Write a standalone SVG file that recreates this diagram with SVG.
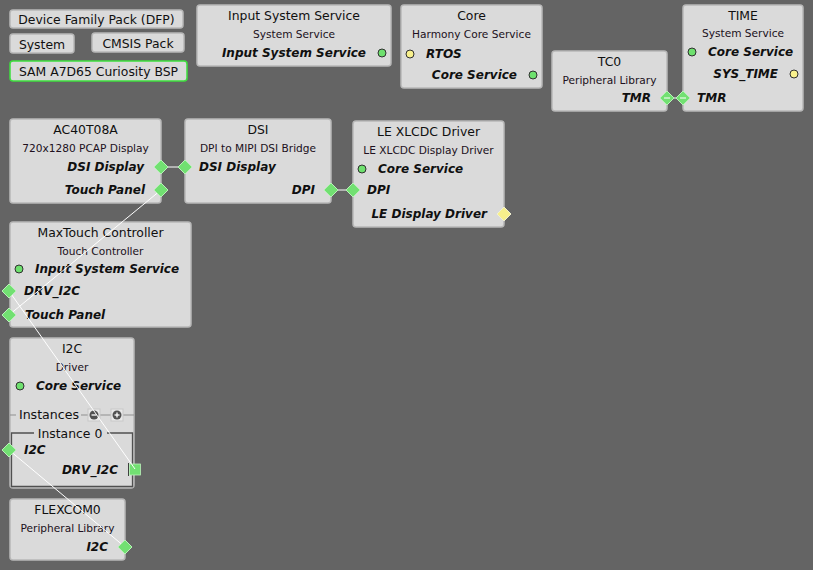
<svg xmlns="http://www.w3.org/2000/svg" width="813" height="570" viewBox="0 0 813 570">
<defs>
<style>
.bg{fill:#646464}
.node{fill:#dadada;stroke:#b8b8b8;stroke-width:1.5}
.sel{fill:#dadada;stroke:#3ee03e;stroke-width:1.5}
.t{font-family:"DejaVu Sans",Verdana,sans-serif;font-size:12.4px;fill:#101010;text-anchor:middle;dominant-baseline:central}
.s{font-family:"DejaVu Sans",Verdana,sans-serif;font-size:10.6px;fill:#201020;text-anchor:middle;dominant-baseline:central}
.p{font-family:"DejaVu Sans",Verdana,sans-serif;font-size:12px;font-weight:bold;font-style:italic;fill:#101010;dominant-baseline:central}
.r{text-anchor:end}
.gc{fill:#6ee06e;stroke:#303030;stroke-width:1}
.yc{fill:#f8f08c;stroke:#303030;stroke-width:1}
.gd{fill:#72e072;stroke:#b8f0b8;stroke-width:1}
.yd{fill:#f8f08c;stroke:#f0f0d0;stroke-width:1}
.w{stroke:#ffffff;stroke-width:1;fill:none}
</style>
</defs>
<rect class="bg" x="0" y="0" width="813" height="570"/>

<g id="dfp"><rect class="node" x="10" y="10" width="173" height="18" rx="3"/><text class="t" x="96.5" y="19.5">Device Family Pack (DFP)</text></g>
<g id="system"><rect class="node" x="10" y="34" width="64" height="19" rx="3"/><text class="t" x="42" y="44">System</text></g>
<g id="cmsis"><rect class="node" x="92" y="33" width="92" height="19" rx="3"/><text class="t" x="138" y="43">CMSIS Pack</text></g>
<g id="bsp"><rect class="sel" x="10" y="61" width="177" height="20" rx="3"/><text class="t" x="98.5" y="71">SAM A7D65 Curiosity BSP</text></g>

<g id="input-system-service"><rect class="node" x="197" y="5" width="194" height="61" rx="3"/>
<text class="t" x="294" y="15">Input System Service</text>
<text class="s" x="294" y="34">System Service</text>
<text class="p r" x="366" y="53">Input System Service</text>
<circle class="gc" cx="382" cy="53" r="4"/></g>

<g id="core"><rect class="node" x="401" y="5" width="141" height="83" rx="3"/>
<text class="t" x="471.5" y="15">Core</text>
<text class="s" x="471.5" y="34">Harmony Core Service</text>
<circle class="yc" cx="410" cy="54" r="4"/>
<text class="p" x="426" y="54">RTOS</text>
<text class="p r" x="517" y="75">Core Service</text>
<circle class="gc" cx="533" cy="75" r="4"/></g>

<g id="tc0"><rect class="node" x="552" y="51" width="115" height="60" rx="3"/>
<text class="t" x="609.5" y="61">TC0</text>
<text class="s" x="609.5" y="80">Peripheral Library</text>
<text class="p r" x="651" y="98">TMR</text></g>

<g id="time"><rect class="node" x="683" y="5" width="120" height="106" rx="3"/>
<text class="t" x="743" y="15">TIME</text>
<text class="s" x="743" y="33">System Service</text>
<circle class="gc" cx="692" cy="52" r="4"/>
<text class="p" x="708" y="52">Core Service</text>
<text class="p r" x="778" y="74">SYS_TIME</text>
<circle class="yc" cx="794" cy="74" r="4"/>
<text class="p" x="697" y="98">TMR</text></g>

<g id="ac40t08a"><rect class="node" x="10" y="119" width="151" height="84" rx="3"/>
<text class="t" x="85.5" y="129">AC40T08A</text>
<text class="s" x="85.5" y="148">720x1280 PCAP Display</text>
<text class="p r" x="144" y="167">DSI Display</text>
<text class="p r" x="145" y="190">Touch Panel</text></g>

<g id="dsi"><rect class="node" x="185" y="119" width="146" height="84" rx="3"/>
<text class="t" x="258" y="129">DSI</text>
<text class="s" x="258" y="148">DPI to MIPI DSI Bridge</text>
<text class="p" x="199" y="167">DSI Display</text>
<text class="p r" x="315" y="190">DPI</text></g>

<g id="le-xlcdc"><rect class="node" x="353" y="121" width="151" height="106" rx="3"/>
<text class="t" x="428.5" y="131">LE XLCDC Driver</text>
<text class="s" x="428.5" y="150">LE XLCDC Display Driver</text>
<circle class="gc" cx="362" cy="169" r="4"/>
<text class="p" x="378" y="169">Core Service</text>
<text class="p" x="367" y="190">DPI</text>
<text class="p r" x="487" y="214">LE Display Driver</text></g>

<g id="maxtouch"><rect class="node" x="10" y="222" width="181" height="105" rx="3"/>
<text class="t" x="100.5" y="232">MaxTouch Controller</text>
<text class="s" x="100.5" y="251">Touch Controller</text>
<circle class="gc" cx="19" cy="269" r="4"/>
<text class="p" x="35" y="269">Input System Service</text>
<text class="p" x="24" y="291">DRV_I2C</text>
<text class="p" x="25" y="315">Touch Panel</text></g>

<g id="i2c"><rect class="node" x="10" y="338" width="124" height="150" rx="3"/>
<text class="t" x="72" y="348">I2C</text>
<text class="s" x="72" y="367">Driver</text>
<circle class="gc" cx="20" cy="386" r="4"/>
<text class="p" x="36" y="386">Core Service</text>
<line x1="10" y1="415" x2="16" y2="415" stroke="#909090" stroke-width="1"/>
<line x1="81" y1="415" x2="134" y2="415" stroke="#909090" stroke-width="1"/>
<text class="t" x="49" y="414" style="font-size:12.6px">Instances</text>
<rect x="88" y="409" width="12" height="12" fill="#e8e8e8" stroke="#c8c8c8"/>
<circle cx="94" cy="415" r="4.5" fill="#505050"/><line x1="91.5" y1="415" x2="96.5" y2="415" stroke="#ffffff" stroke-width="1.3"/>
<rect x="111" y="409" width="12" height="12" fill="#e8e8e8" stroke="#c8c8c8"/>
<circle cx="117" cy="415" r="4.5" fill="#505050"/><line x1="114.5" y1="415" x2="119.5" y2="415" stroke="#ffffff" stroke-width="1.3"/><line x1="117" y1="412.5" x2="117" y2="417.5" stroke="#ffffff" stroke-width="1.3"/>
<path d="M34 433 H11.5 V486.5 H132.5 V433 H107" fill="none" stroke="#505050" stroke-width="1.3"/>
<text class="t" x="70" y="433">Instance 0</text>
<text class="p" x="24" y="450">I2C</text>
<text class="p r" x="118" y="470">DRV_I2C</text>
<line x1="128.5" y1="463" x2="128.5" y2="476" stroke="#404040" stroke-width="1"/>
<rect x="129.5" y="464" width="11" height="11" fill="#72e072" stroke="#b8f0b8" stroke-width="0.8"/></g>

<g id="flexcom0"><rect class="node" x="10" y="499" width="115" height="61" rx="3"/>
<text class="t" x="67.5" y="509">FLEXCOM0</text>
<text class="s" x="67.5" y="528">Peripheral Library</text>
<text class="p r" x="108" y="547">I2C</text></g>

<g id="connectors">
<line class="w" x1="667" y1="98" x2="683" y2="98"/>
<line class="w" x1="161" y1="167" x2="185" y2="167"/>
<line class="w" x1="331" y1="190" x2="353" y2="190"/>
<line class="w" x1="161" y1="190" x2="9" y2="315"/>
<line class="w" x1="9" y1="291" x2="135" y2="469"/>
<line class="w" x1="9" y1="450" x2="125" y2="547"/>
</g>

<g id="ports">
<path class="gd" d="M667 91 L674 98 L667 105 L660 98 Z"/>
<path class="gd" d="M683 91 L690 98 L683 105 L676 98 Z"/>
<path class="gd" d="M161 160 L168 167 L161 174 L154 167 Z"/>
<path class="gd" d="M161 183 L168 190 L161 197 L154 190 Z"/>
<path class="gd" d="M185 160 L192 167 L185 174 L178 167 Z"/>
<path class="gd" d="M331 183 L338 190 L331 197 L324 190 Z"/>
<path class="gd" d="M353 183 L360 190 L353 197 L346 190 Z"/>
<path class="yd" d="M504 207 L511 214 L504 221 L497 214 Z"/>
<path class="gd" d="M9 284 L16 291 L9 298 L2 291 Z"/>
<path class="gd" d="M9 308 L16 315 L9 322 L2 315 Z"/>
<path class="gd" d="M9 443 L16 450 L9 457 L2 450 Z"/>
<path class="gd" d="M125 540 L132 547 L125 554 L118 547 Z"/>
</g>
<g id="port-ticks" stroke="#ffffff" stroke-width="1">
<line x1="664" y1="98" x2="670" y2="98"/><line x1="680" y1="98" x2="686" y2="98"/>
</g>
</svg>
